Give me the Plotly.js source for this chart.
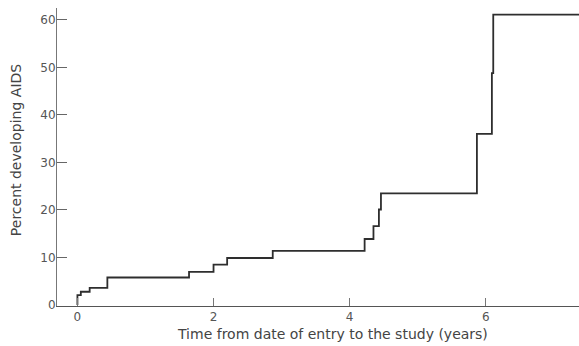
<!DOCTYPE html>
<html>
<head>
<meta charset="utf-8">
<script src="https://cdn.plot.ly/plotly-3.0.1.min.js"></script>
<style>html,body{margin:0;padding:0;background:#fff;}#chart{width:579px;height:346px;}</style>
</head>
<body>
<div id="chart"></div>
<script>
// Time from entry (years) at which the cumulative percentage steps up
var times = [0, 0, 0.05, 0.18, 0.44, 1.64, 2.0, 2.2, 2.87, 4.22, 4.35, 4.43, 4.46, 5.87, 6.09, 6.11, 7.4];
// Cumulative percent developing AIDS after each step
var percent = [0, 2.1, 2.8, 3.6, 5.8, 7.0, 8.5, 9.9, 11.4, 13.9, 16.6, 20.1, 23.5, 36.0, 48.8, 61.1, 61.1];
var xTicks = [0, 2, 4, 6];
var yTicks = [0, 10, 20, 30, 40, 50, 60];
var xTitle = 'Time from date of entry to the study (years)';
var yTitle = 'Percent developing AIDS';

var trace = {
  x: times, y: percent, type: 'scatter', mode: 'lines',
  line: {shape: 'hv', color: '#2e2e2e', width: 1.8},
  hoverinfo: 'skip'
};
var font = {family: 'DejaVu Sans, sans-serif', size: 12, color: '#555'};
var layout = {
  width: 579, height: 346,
  margin: {l: 57, r: 0, t: 8, b: 40, pad: 0},
  paper_bgcolor: '#fff', plot_bgcolor: '#fff',
  showlegend: false,
  font: font,
  xaxis: {
    range: [-0.30, 7.37], tickvals: xTicks, ticktext: xTicks.map(String),
    ticks: 'inside', ticklen: 8, tickwidth: 1, tickcolor: '#777',
    showline: true, linecolor: '#555', linewidth: 1.2,
    showgrid: false, zeroline: false, tickfont: font, ticklabelstandoff: -1
  },
  yaxis: {
    range: [-0.2, 62.5], tickvals: yTicks, ticktext: yTicks.map(String),
    ticks: 'inside', ticklen: 10, tickwidth: 1, tickcolor: '#666',
    showline: true, linecolor: '#777', linewidth: 1,
    showgrid: false, zeroline: false, tickfont: font, ticklabelstandoff: -2
  },
  annotations: [
    {text: xTitle, xref: 'paper', yref: 'paper', x: 0.527, y: -0.094,
     xanchor: 'center', yanchor: 'middle', showarrow: false,
     font: {family: 'DejaVu Sans, sans-serif', size: 14, color: '#444'}},
    {text: yTitle, xref: 'paper', yref: 'paper', x: -0.0785, y: 0.523,
     xanchor: 'center', yanchor: 'middle', showarrow: false, textangle: -90,
     font: {family: 'DejaVu Sans, sans-serif', size: 14, color: '#444'}}
  ]
};
Plotly.newPlot('chart', [trace], layout, {staticPlot: true, displayModeBar: false});
</script>
</body>
</html>
